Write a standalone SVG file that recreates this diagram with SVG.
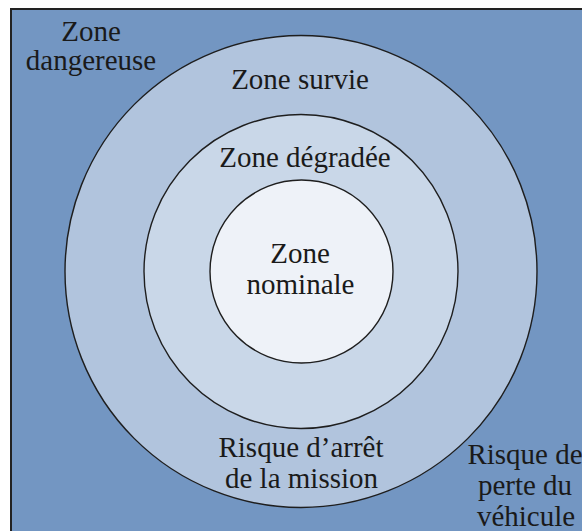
<svg xmlns="http://www.w3.org/2000/svg" width="582" height="531" viewBox="0 0 582 531">
<style>
.ring{stroke:#1e1e1e;stroke-width:1.4}
.t{font-family:"Liberation Serif","DejaVu Serif",serif;font-size:29px;fill:#1a1a1a;text-anchor:middle}
</style>
<rect width="582" height="531" fill="#ffffff"/>
<g id="zone-dangereuse">
<rect x="11" y="9" width="600" height="560" fill="#7396c2" stroke="#222" stroke-width="2"/>
<text class="t" x="91" y="41">Zone</text>
<text class="t" x="91" y="70">dangereuse</text>
</g>
<g id="zone-survie">
<circle class="ring" cx="301" cy="271.5" r="236" fill="#b1c4dd"/>
<text class="t" x="300" y="89">Zone survie</text>
</g>
<g id="zone-degradee">
<circle class="ring" cx="301" cy="271.5" r="157" fill="#c9d7e8"/>
<text class="t" x="305" y="167">Zone dégradée</text>
</g>
<g id="zone-nominale">
<circle class="ring" cx="301.5" cy="271.5" r="91.5" fill="#eef2f8"/>
<text class="t" x="300" y="263">Zone</text>
<text class="t" x="300.5" y="294">nominale</text>
</g>
<g id="risque-arret">
<text class="t" x="301" y="457">Risque d’arrêt</text>
<text class="t" x="301.5" y="488">de la mission</text>
</g>
<g id="risque-perte">
<text class="t" x="525" y="464">Risque de</text>
<text class="t" x="525" y="495">perte du</text>
<text class="t" x="526" y="526">véhicule</text>
</g>
<g id="connectors"/>
</svg>
